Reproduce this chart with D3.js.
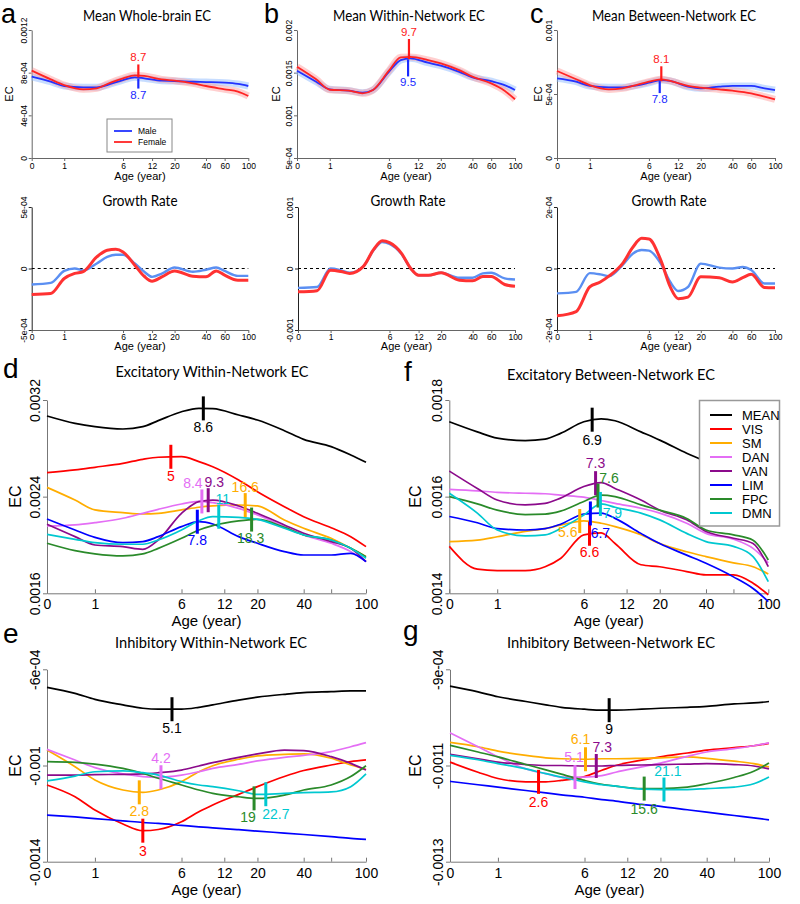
<!DOCTYPE html>
<html>
<head>
<meta charset="utf-8">
<script src="https://cdn.jsdelivr.net/npm/d3@7"></script>
<style>
  body { margin: 0; background: #fff; }
  svg { font-family: "Liberation Sans", Arial, sans-serif; }
</style>
</head>
<body>
<svg id="fig" width="800" height="904"></svg>
<script>
const topAges    = [0, 0.5, 1, 2, 3, 4, 6, 8, 10, 15, 20, 30, 40, 60, 80, 100];
const growthAges = [0, 0.5, 1, 1.5, 2, 3, 4, 5, 6, 8, 10, 12, 15, 20, 30, 40, 50, 60, 80, 100];
const netAges    = [0, 0.5, 1, 2, 3, 4, 6, 8, 10, 15, 20, 30, 40, 60, 80, 100];
const ageTicks   = [0, 1, 6, 12, 20, 40, 60, 100];
const ageLabelsTop    = ["0", "1", "6", "12", "20", "40", "60", "100"];
const ageLabelsBottom = ["0", "1", "6", "12", "20", "40", "", "100"];

// ---- mean EC, all values x 1e-4 ----
const wholeMale     = [7.62, 7.15, 6.75, 6.63, 6.63, 6.84, 7.31, 7.56, 7.47, 7.25, 7.22, 7.15, 7.12, 7.06, 6.94, 6.75];
const wholeFemale   = [8.19, 7.37, 6.84, 6.44, 6.53, 6.94, 7.47, 7.75, 7.69, 7.37, 7.25, 7.00, 6.75, 6.44, 6.22, 5.81];
const withinMale    = [15.23, 13.94, 13.05, 12.89, 12.65, 12.97, 15.10, 16.48, 16.68, 16.17, 15.82, 15.10, 14.46, 14.00, 13.55, 12.97];
const withinFemale  = [15.70, 14.22, 13.00, 12.89, 12.58, 12.97, 15.23, 16.80, 16.84, 16.48, 16.10, 15.30, 14.53, 13.75, 12.89, 11.88];
const betweenMale   = [6.22, 5.96, 5.63, 5.52, 5.52, 5.63, 5.88, 6.09, 6.02, 5.57, 5.44, 5.57, 5.63, 5.63, 5.44, 5.31];
const betweenFemale = [6.80, 6.15, 5.70, 5.36, 5.44, 5.63, 5.96, 6.15, 6.02, 5.63, 5.49, 5.36, 5.26, 5.05, 4.79, 4.58];
const topPeakMale   = [8.7, 9.5, 7.8];
const topPeakFemale = [8.7, 9.7, 8.1];

// ---- growth rate, x 1e-4 ----
const growthWholeMale     = [-1.30, -1.17, -0.20, 0.00, -0.15, 0.41, 0.94, 1.12, 1.12, 0.41, -0.27, -0.68, -0.41, 0.08, -0.27, -0.10, 0.08, -0.20, -0.60, -0.60];
const growthWholeFemale   = [-2.11, -2.03, -0.81, -0.40, -0.25, 0.94, 1.49, 1.57, 1.35, 0.27, -0.63, -1.03, -0.68, -0.20, -0.63, -0.68, -0.20, -0.54, -0.95, -0.95];
const growthWithinMale    = [-3.15, -3.00, 0.00, -0.30, -0.70, 0.30, 3.00, 4.30, 4.00, 2.40, 0.00, -1.10, -1.10, -0.70, -1.50, -1.50, -0.80, -0.70, -1.60, -1.80];
const growthWithinFemale  = [-3.80, -3.60, -0.30, -0.50, -0.80, 0.30, 3.10, 4.50, 4.20, 2.50, 0.00, -1.10, -1.10, -0.70, -1.90, -2.00, -1.30, -1.30, -2.60, -2.90];
const growthBetweenMale   = [-0.81, -0.76, -0.15, -0.19, -0.25, 0.11, 0.49, 0.60, 0.58, 0.16, -0.44, -0.73, -0.60, 0.16, 0.03, 0.00, 0.05, -0.05, -0.49, -0.49];
const growthBetweenFemale = [-1.54, -1.40, -0.60, -0.44, -0.25, 0.16, 0.70, 0.98, 0.96, 0.27, -0.60, -0.98, -0.93, -0.27, -0.30, -0.44, -0.30, -0.19, -0.62, -0.63];

// ---- networks ----
const nets = ["MEAN", "VIS", "SM", "DAN", "VAN", "LIM", "FPC", "DMN"];

// d: excitatory within-network EC (x 1e-4)
const exWithin_MEAN = [30.68, 30.07, 29.79, 29.60, 29.79, 30.29, 31.03, 31.31, 31.28, 30.76, 30.34, 29.46, 28.74, 28.14, 27.45, 26.84];
const exWithin_VIS  = [25.99, 26.21, 26.43, 26.76, 27.09, 27.26, 27.31, 26.90, 26.48, 25.38, 24.41, 23.17, 22.34, 21.43, 20.69, 19.86];
const exWithin_SM   = [24.77, 23.72, 22.90, 22.68, 22.57, 22.62, 22.90, 23.12, 23.23, 23.31, 23.23, 22.07, 21.38, 20.55, 19.72, 19.03];
const exWithin_DAN  = [21.57, 21.66, 21.85, 22.21, 22.62, 22.95, 23.39, 23.61, 23.50, 23.03, 22.48, 21.52, 20.83, 20.14, 19.45, 18.62];
const exWithin_VAN  = [21.71, 20.69, 20.00, 19.86, 19.64, 20.41, 22.62, 23.59, 23.72, 23.23, 22.62, 21.66, 20.97, 20.28, 19.72, 18.62];
const exWithin_LIM  = [22.15, 21.24, 20.63, 20.19, 20.28, 20.69, 21.52, 21.93, 21.74, 20.69, 20.14, 19.45, 19.17, 19.17, 19.31, 18.62];
const exWithin_FPC  = [20.14, 19.53, 19.26, 19.09, 19.26, 19.72, 20.55, 21.24, 21.60, 21.99, 22.12, 21.46, 20.83, 20.41, 19.72, 19.03];
const exWithin_DMN  = [20.88, 20.47, 20.19, 20.06, 20.06, 20.41, 21.24, 22.01, 22.34, 22.29, 22.12, 21.38, 20.83, 20.41, 19.72, 18.90];
const exWithinPeaks = [8.6, 5, 16.6, 8.4, 9.3, 7.8, 18.3, 11];

// f: excitatory between-network EC (x 1e-4)
const exBetween_MEAN = [17.55, 17.34, 17.21, 17.16, 17.19, 17.31, 17.55, 17.61, 17.57, 17.34, 17.17, 16.90, 16.72, 16.41, 16.21, 16.00];
const exBetween_VIS  = [14.97, 14.50, 14.47, 14.47, 14.55, 14.72, 15.21, 15.25, 15.03, 14.59, 14.55, 14.45, 14.38, 14.38, 14.21, 13.97];
const exBetween_SM   = [15.07, 15.10, 15.17, 15.28, 15.34, 15.41, 15.50, 15.45, 15.38, 15.21, 15.03, 14.86, 14.76, 14.63, 14.55, 14.40];
const exBetween_DAN  = [16.15, 16.12, 16.09, 16.07, 16.06, 16.03, 15.99, 15.92, 15.86, 15.76, 15.66, 15.45, 15.24, 15.12, 14.93, 14.63];
const exBetween_VAN  = [16.53, 16.17, 15.93, 15.83, 15.86, 15.97, 16.21, 16.29, 16.17, 15.93, 15.72, 15.52, 15.28, 15.14, 15.03, 14.55];
const exBetween_LIM  = [15.59, 15.46, 15.34, 15.31, 15.34, 15.43, 15.64, 15.66, 15.55, 15.24, 15.03, 14.79, 14.62, 14.34, 14.10, 13.83];
const exBetween_FPC  = [16.00, 15.85, 15.72, 15.63, 15.64, 15.70, 15.90, 16.03, 16.00, 15.83, 15.72, 15.55, 15.31, 15.21, 15.10, 14.69];
const exBetween_DMN  = [16.07, 15.66, 15.31, 15.19, 15.21, 15.34, 15.62, 15.85, 15.78, 15.66, 15.52, 15.24, 15.07, 14.97, 14.76, 14.24];
const exBetweenPeaks = [6.9, 6.6, 5.6, null, 7.3, 6.7, 7.6, 7.9];

// e: inhibitory within-network EC (x 1e-4)
const inWithin_MEAN = [-6.75, -7.00, -7.25, -7.48, -7.62, -7.66, -7.66, -7.58, -7.48, -7.28, -7.16, -7.04, -6.97, -6.93, -6.90, -6.90];
const inWithin_VIS  = [-10.81, -11.30, -11.85, -12.43, -12.71, -12.66, -12.34, -11.92, -11.64, -11.20, -10.88, -10.46, -10.21, -9.98, -9.84, -9.77];
const inWithin_SM   = [-9.36, -10.05, -10.60, -11.02, -11.12, -11.02, -10.67, -10.26, -10.01, -9.74, -9.60, -9.54, -9.52, -9.70, -9.98, -10.16];
const inWithin_DAN  = [-9.33, -9.77, -10.09, -10.35, -10.46, -10.49, -10.40, -10.26, -10.12, -9.95, -9.81, -9.66, -9.58, -9.42, -9.22, -9.05];
const inWithin_VAN  = [-10.40, -10.40, -10.38, -10.37, -10.35, -10.30, -10.19, -10.02, -9.88, -9.66, -9.52, -9.36, -9.38, -9.63, -9.91, -10.19];
const inWithin_LIM  = [-12.06, -12.14, -12.21, -12.30, -12.37, -12.41, -12.49, -12.55, -12.59, -12.67, -12.73, -12.81, -12.87, -12.96, -13.03, -13.07];
const inWithin_FPC  = [-9.84, -9.87, -9.94, -10.12, -10.33, -10.53, -10.81, -11.02, -11.16, -11.30, -11.37, -11.23, -11.02, -10.81, -10.46, -10.01];
const inWithin_DMN  = [-10.64, -10.44, -10.26, -10.22, -10.30, -10.40, -10.67, -10.81, -10.88, -11.05, -11.20, -11.16, -11.13, -11.10, -10.88, -10.35];
const inWithinPeaks = [5.1, 3, 2.8, 4.2, null, null, 19, 22.7];

// g: inhibitory between-network EC (x 1e-4)
const inBetween_MEAN = [-9.35, -9.47, -9.57, -9.67, -9.74, -9.79, -9.83, -9.85, -9.85, -9.83, -9.81, -9.79, -9.77, -9.72, -9.70, -9.67];
const inBetween_VIS  = [-10.93, -11.14, -11.27, -11.34, -11.34, -11.31, -11.23, -11.10, -11.00, -10.89, -10.82, -10.74, -10.68, -10.63, -10.59, -10.54];
const inBetween_SM   = [-10.52, -10.61, -10.70, -10.79, -10.84, -10.86, -10.87, -10.86, -10.86, -10.85, -10.84, -10.82, -10.85, -10.91, -10.96, -11.03];
const inBetween_DAN  = [-10.32, -10.61, -10.82, -11.07, -11.17, -11.24, -11.24, -11.21, -11.14, -11.03, -10.95, -10.81, -10.72, -10.65, -10.59, -10.53];
const inBetween_VAN  = [-10.77, -10.86, -10.93, -10.98, -11.00, -11.00, -11.01, -11.01, -11.00, -10.99, -10.98, -10.97, -10.96, -10.98, -11.01, -11.07];
const inBetween_LIM  = [-11.33, -11.40, -11.45, -11.52, -11.57, -11.61, -11.66, -11.71, -11.74, -11.81, -11.85, -11.92, -11.97, -12.04, -12.09, -12.13];
const inBetween_FPC  = [-10.58, -10.72, -10.82, -10.98, -11.09, -11.18, -11.31, -11.39, -11.43, -11.48, -11.48, -11.45, -11.38, -11.25, -11.12, -10.95];
const inBetween_DMN  = [-10.79, -10.88, -10.96, -11.07, -11.17, -11.24, -11.34, -11.40, -11.43, -11.49, -11.50, -11.50, -11.48, -11.45, -11.38, -11.24];
const inBetweenPeaks = [9, 2.6, 6.1, 5.1, 7.3, null, 15.6, 21.1];

// ---- drawing ----
const svg = d3.select("#fig");
const TFONT = "Lato, 'Open Sans', sans-serif";
const netColor = d3.scaleOrdinal().domain(nets)
  .range(["#000000", "#ff0000", "#ffad00", "#e46ef5", "#8b0a8b", "#0000ff", "#2a8a2a", "#00c8d0"]);

function text(x, y, s, size, opts = {}) {
  const t = svg.append("text").attr("x", x).attr("y", y).text(s)
    .style("font-size", size + "px")
    .attr("text-anchor", opts.anchor || "middle")
    .attr("fill", opts.fill || "#000");
  if (opts.font) t.style("font-family", opts.font);
  if (opts.rotate) t.attr("transform", `rotate(-90,${x},${y})`);
  if (opts.len) t.attr("textLength", opts.len).attr("lengthAdjust", "spacingAndGlyphs");
  return t;
}

function yAtX(node, px) {
  let lo = 0, hi = node.getTotalLength();
  for (let i = 0; i < 30; i++) {
    const mid = (lo + hi) / 2;
    if (node.getPointAtLength(mid).x < px) lo = mid; else hi = mid;
  }
  return node.getPointAtLength((lo + hi) / 2).y;
}

function axes(x, y, o) {
  // x axis
  const xa = svg.append("g").attr("transform", `translate(0,${o.yb})`)
    .call(d3.axisBottom(x).tickValues(ageTicks.map(a => a + 1))
      .tickFormat((d, i) => o.xLabels[i]).tickSizeInner(o.xTick).tickSizeOuter(0));
  xa.attr("font-family", null).attr("font-size", null);
  xa.select(".domain").attr("stroke", o.xColor);
  xa.selectAll(".tick line").attr("stroke", o.xColor);
  xa.selectAll("text").attr("y", o.xLabelDy).attr("dy", 0)
    .style("font-size", o.xFont + "px").attr("fill", "#000");
  // y axis
  const ya = svg.append("g").attr("transform", `translate(${o.xl},0)`)
    .call(d3.axisLeft(y).tickValues(o.yTicks).tickFormat((d, i) => o.yLabels[i])
      .tickSizeInner(o.yTick).tickSizeOuter(0));
  ya.attr("font-family", null).attr("font-size", null);
  ya.select(".domain").attr("stroke", o.yColor);
  ya.selectAll(".tick line").attr("stroke", o.yColor);
  ya.selectAll("text").attr("transform", "rotate(-90)")
    .attr("x", 0).attr("y", -o.yLabelDx).attr("dy", 0)
    .attr("text-anchor", "middle").style("font-size", o.yFont + "px").attr("fill", "#000");
}

// ---------- row 1: mean EC by sex ----------
const topPanels = [
  { letter: "a", lx: 1, title: "Mean Whole-brain EC", tx: 147, tlen: 128, x0: 31.7, x1: 248.3,
    dom: [0, 12], yT: [0, 4, 8, 12], yL: ["0", "4e-04", "8e-04", "0.0012"],
    m: wholeMale, f: wholeFemale, mk: 11, ecx: 13 },
  { letter: "b", lx: 264, title: "Mean Within-Network EC", tx: 409, tlen: 152, x0: 297, x1: 515,
    dom: [5, 20], yT: [5, 10, 15, 20], yL: ["5e-04", "0.001", "0.0015", "0.002"],
    m: withinMale, f: withinFemale, mk: 18, ecx: 280 },
  { letter: "c", lx: 530, title: "Mean Between-Network EC", tx: 674, tlen: 164, x0: 557, x1: 775,
    dom: [0, 10], yT: [0, 5, 10], yL: ["0", "5e-04", "0.001"],
    m: betweenMale, f: betweenFemale, mk: 13, ecx: 542 }
];

topPanels.forEach((p, k) => {
  const x = d3.scaleLog().domain([1, 101]).range([p.x0, p.x1]);
  const y = d3.scaleLinear().domain(p.dom).range([158, 30]);
  text(p.lx, 23, p.letter, 27, { anchor: "start" });
  text(p.tx, 21, p.title, 15, { font: TFONT, len: p.tlen });
  axes(x, y, { yb: 158, xLabels: ageLabelsTop, xTick: 3, xColor: "#666", xLabelDy: 10.5, xFont: 8.5,
    xl: p.x0, yTicks: p.yT, yLabels: p.yL, yTick: 3, yColor: "#666", yLabelDx: 5, yFont: 8.5 });
  text(p.ecx, 94, "EC", 11, { rotate: true });
  text((p.x0 + p.x1) / 2, 180, "Age (year)", 11);

  const line = d3.line().x((d, i) => x(topAges[i] + 1)).y(d => y(d)).curve(d3.curveMonotoneX);
  svg.append("path").attr("d", line(p.m)).attr("fill", "none")
    .attr("stroke", "#8fbcff").attr("stroke-opacity", 0.5).attr("stroke-width", 7);
  svg.append("path").attr("d", line(p.f)).attr("fill", "none")
    .attr("stroke", "#ffa0a0").attr("stroke-opacity", 0.5).attr("stroke-width", 7);
  const mPath = svg.append("path").attr("d", line(p.m)).attr("fill", "none")
    .attr("stroke", "#2233ff").attr("stroke-width", 1.8);
  const fPath = svg.append("path").attr("d", line(p.f)).attr("fill", "none")
    .attr("stroke", "#ff2424").attr("stroke-width", 1.8);

  // peak markers
  const xf = x(topPeakFemale[k] + 1), yf = yAtX(fPath.node(), xf);
  const xm = x(topPeakMale[k] + 1), ym = yAtX(mPath.node(), xm);
  svg.append("line").attr("x1", xf).attr("x2", xf).attr("y1", yf - p.mk).attr("y2", yf + 2)
    .attr("stroke", "#ff1a1a").attr("stroke-width", 2.2);
  svg.append("line").attr("x1", xm).attr("x2", xm).attr("y1", ym + 1).attr("y2", ym + p.mk)
    .attr("stroke", "#1a2aff").attr("stroke-width", 2.2);
  text(xf, yf - p.mk - 3, String(topPeakFemale[k]), 11.5, { fill: "#ff1a1a" });
  text(xm, ym + p.mk + 10, String(topPeakMale[k]), 11.5, { fill: "#1a2aff" });
});

// sex legend in panel a
svg.append("rect").attr("x", 107).attr("y", 119).attr("width", 65).attr("height", 33)
  .attr("fill", "#fff").attr("stroke", "#888").attr("stroke-width", 1);
[["Male", "#2233ff", 131], ["Female", "#ff2424", 142]].forEach(([lab, col, ly]) => {
  svg.append("line").attr("x1", 114).attr("x2", 132).attr("y1", ly).attr("y2", ly)
    .attr("stroke", col).attr("stroke-width", 1.8);
  text(138, ly + 3, lab, 8.5, { anchor: "start" });
});

// ---------- row 2: growth rate ----------
const growthPanels = [
  { tx: 140, x0: 31.7, x1: 248.3, dom: [-5, 5], yL: ["-5e-04", "0", "5e-04"], m: growthWholeMale, f: growthWholeFemale },
  { tx: 408, x0: 298, x1: 515, dom: [-10, 10], yL: ["-0.001", "0", "0.001"], m: growthWithinMale, f: growthWithinFemale },
  { tx: 669, x0: 557, x1: 775, dom: [-2, 2], yL: ["-2e-04", "0", "2e-04"], m: growthBetweenMale, f: growthBetweenFemale }
];

growthPanels.forEach(p => {
  const x = d3.scaleLog().domain([1, 101]).range([p.x0, p.x1]);
  const y = d3.scaleLinear().domain(p.dom).range([330, 207]);
  text(p.tx, 206, "Growth Rate", 15, { font: TFONT, len: 75 });
  axes(x, y, { yb: 330, xLabels: ageLabelsTop, xTick: 3, xColor: "#666", xLabelDy: 9.5, xFont: 8.5,
    xl: p.x0, yTicks: [p.dom[0], 0, p.dom[1]], yLabels: p.yL, yTick: 3, yColor: "#222", yLabelDx: 5, yFont: 8.5 });
  text((p.x0 + p.x1) / 2, 350, "Age (year)", 11);
  svg.append("line").attr("x1", p.x0).attr("x2", p.x1).attr("y1", y(0)).attr("y2", y(0))
    .attr("stroke", "#000").attr("stroke-dasharray", "3,3").attr("stroke-width", 1);
  const line = d3.line().x((d, i) => x(growthAges[i] + 1)).y(d => y(d)).curve(d3.curveMonotoneX);
  svg.append("path").attr("d", line(p.m)).attr("fill", "none")
    .attr("stroke", "#5b8ff2").attr("stroke-width", 2.4);
  svg.append("path").attr("d", line(p.f)).attr("fill", "none")
    .attr("stroke", "#ff3232").attr("stroke-width", 3);
});

// ---------- rows 3-4: networks ----------
const netPanels = [
  { letter: "d", lx: 3, ly: 378, title: "Excitatory Within-Network EC", tx: 212, ty: 377, tlen: 193,
    x0: 47, x1: 366, y0: 400, y1: 593.3, dom: [16, 32], yT: [16, 24, 32], yL: ["0.0016", "0.0024", "0.0032"],
    series: [exWithin_MEAN, exWithin_VIS, exWithin_SM, exWithin_DAN, exWithin_VAN, exWithin_LIM, exWithin_FPC, exWithin_DMN],
    peaks: exWithinPeaks, ecx: 21,
    lab: { MEAN: [0, 24], VIS: [0, 24], SM: [0, -13], DAN: [-9, -13], VAN: [6, -13], LIM: [0, 23], FPC: [-1, 23], DMN: [4, -13] } },
  { letter: "f", lx: 404, ly: 381, title: "Excitatory Between-Network EC", tx: 611, ty: 380, tlen: 208,
    x0: 449.3, x1: 768.3, y0: 400, y1: 593.3, dom: [14, 18], yT: [14, 16, 18], yL: ["0.0014", "0.0016", "0.0018"],
    series: [exBetween_MEAN, exBetween_VIS, exBetween_SM, exBetween_DAN, exBetween_VAN, exBetween_LIM, exBetween_FPC, exBetween_DMN],
    peaks: exBetweenPeaks, ecx: 421, legend: true,
    lab: { MEAN: [0, 25], VIS: [0, 23], SM: [-12, 16], VAN: [0, -15], LIM: [10, 25], FPC: [11, -13], DMN: [12, 14] } },
  { letter: "e", lx: 3, ly: 643, title: "Inhibitory Within-Network EC", tx: 211, ty: 648, tlen: 192,
    x0: 47, x1: 366, y0: 669.3, y1: 861.7, dom: [-14, -6], yT: [-14, -10, -6], yL: ["-0.0014", "-0.001", "-6e-04"],
    series: [inWithin_MEAN, inWithin_VIS, inWithin_SM, inWithin_DAN, inWithin_VAN, inWithin_LIM, inWithin_FPC, inWithin_DMN],
    peaks: inWithinPeaks, ecx: 21,
    lab: { MEAN: [0, 24], VIS: [0, 25], SM: [0, 24], DAN: [0, -14], FPC: [-6, 24], DMN: [10, 25] } },
  { letter: "g", lx: 403, ly: 640, title: "Inhibitory Between-Network EC", tx: 611, ty: 648, tlen: 208,
    x0: 450, x1: 769, y0: 669.3, y1: 861.7, dom: [-13, -9], yT: [-13, -11, -9], yL: ["-0.0013", "-0.0011", "-9e-04"],
    series: [inBetween_MEAN, inBetween_VIS, inBetween_SM, inBetween_DAN, inBetween_VAN, inBetween_LIM, inBetween_FPC, inBetween_DMN],
    peaks: inBetweenPeaks, ecx: 421,
    lab: { MEAN: [0, 24], VIS: [0, 25], SM: [-5, -15], DAN: [-1, -15], VAN: [6, -14], FPC: [0, 25], DMN: [4, -14] } }
];

netPanels.forEach(p => {
  const x = d3.scaleLog().domain([1, 101]).range([p.x0, p.x1]);
  const y = d3.scaleLinear().domain(p.dom).range([p.y1, p.y0]);
  text(p.lx, p.ly, p.letter, 28, { anchor: "start" });
  text(p.tx, p.ty, p.title, 15, { font: TFONT, len: p.tlen });
  axes(x, y, { yb: p.y1, xLabels: ageLabelsBottom, xTick: -4, xColor: "#777", xLabelDy: 16, xFont: 14,
    xl: p.x0, yTicks: p.yT, yLabels: p.yL, yTick: 4, yColor: "#777", yLabelDx: 7, yFont: 14 });
  text(p.ecx, (p.y0 + p.y1) / 2, "EC", 16, { rotate: true });
  text((p.x0 + p.x1) / 2, p.y1 + 33, "Age (year)", 15);

  const line = d3.line().x((d, i) => x(netAges[i] + 1)).y(d => y(d)).curve(d3.curveMonotoneX);
  const paths = nets.map((n, i) => svg.append("path").attr("d", line(p.series[i])).attr("fill", "none")
    .attr("stroke", netColor(n)).attr("stroke-width", 1.7).node());

  nets.forEach((n, i) => {
    const a = p.peaks[i];
    if (a === null) return;
    const px = x(a + 1), py = yAtX(paths[i], px);
    svg.append("line").attr("x1", px).attr("x2", px).attr("y1", py - 12).attr("y2", py + 12)
      .attr("stroke", netColor(n)).attr("stroke-width", 3);
    const off = p.lab[n] || [0, 24];
    text(px + off[0], py + off[1], String(a), 14, { fill: netColor(n) });
  });

  if (p.legend) {
    svg.append("rect").attr("x", 699.5).attr("y", 400.5).attr("width", 80).attr("height", 125.5)
      .attr("fill", "#fff").attr("stroke", "#999").attr("stroke-width", 1.5);
    nets.forEach((n, i) => {
      const ly = 415 + i * 14;
      svg.append("line").attr("x1", 710).attr("x2", 732).attr("y1", ly).attr("y2", ly)
        .attr("stroke", netColor(n)).attr("stroke-width", 2);
      text(742, ly + 4.5, n, 13, { anchor: "start" });
    });
  }
});
</script>
</body>
</html>
